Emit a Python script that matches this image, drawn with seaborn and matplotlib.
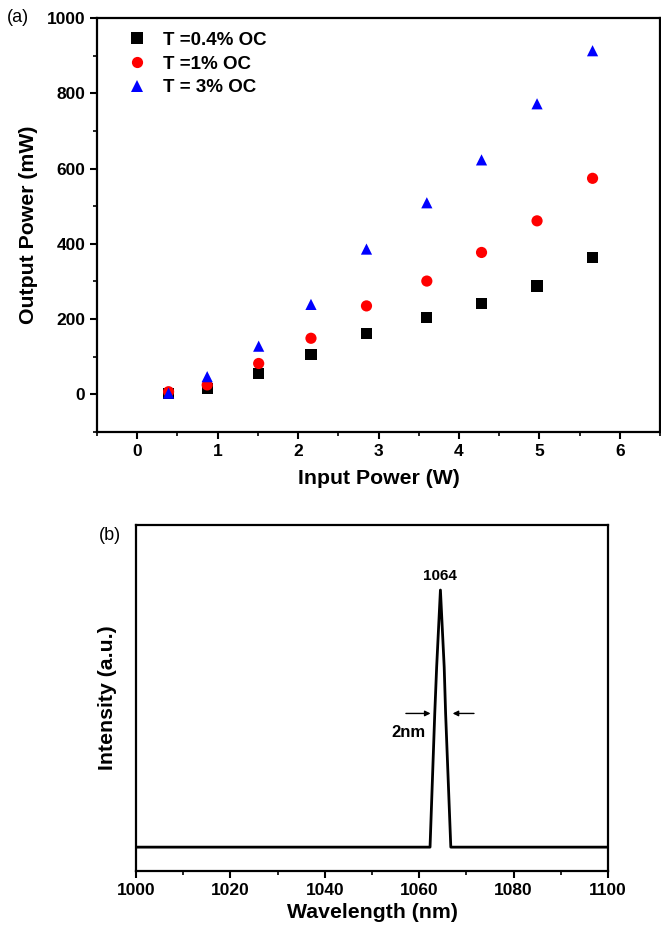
import numpy as np
import pandas as pd
import matplotlib
matplotlib.use("Agg")
import matplotlib.pyplot as plt
import seaborn as sns
from matplotlib.ticker import MultipleLocator

# ---- data: panel (a) ----
input_power = [0.39, 0.87, 1.51, 2.16, 2.85, 3.60, 4.28, 4.97, 5.66]
out_t04 = [3, 16, 56, 106, 162, 204, 242, 288, 364]
out_t1 = [7, 25, 82, 149, 235, 301, 377, 461, 574]
out_t3 = [3, 47, 128, 239, 386, 509, 623, 772, 913]
series_labels = ["T =0.4% OC", "T =1% OC", "T = 3% OC"]
x_ticks_a = [0, 1, 2, 3, 4, 5, 6]
y_ticks_a = [0, 200, 400, 600, 800, 1000]

# ---- data: panel (b) ----
wavelength = [1000, 1062.3, 1063.3, 1063.7, 1064.5, 1065.3, 1065.6, 1066.7, 1100]
intensity = [0, 0, 0.52, 0.70, 1.0, 0.70, 0.52, 0, 0]
x_ticks_b = [1000, 1020, 1040, 1060, 1080, 1100]
peak_label = "1064"
width_label = "2nm"

sns.set_style("ticks")
plt.rcParams["font.family"] = ["Liberation Sans", "DejaVu Sans"]
plt.rcParams["font.weight"] = "bold"
for k in ("text.color", "axes.labelcolor", "xtick.color", "ytick.color", "axes.edgecolor"):
    plt.rcParams[k] = "black"

fig = plt.figure(figsize=(6.61, 9.32), dpi=100)
ax1 = fig.add_axes([0.1467, 0.5365, 0.852, 0.4442])
ax2 = fig.add_axes([0.2057, 0.0654, 0.7141, 0.3713])

df = pd.DataFrame({
    "Input": input_power * 3,
    "Output": out_t04 + out_t1 + out_t3,
    "Series": [series_labels[0]] * len(input_power)
    + [series_labels[1]] * len(input_power)
    + [series_labels[2]] * len(input_power),
})
palette = {series_labels[0]: "black", series_labels[1]: "#ff0000", series_labels[2]: "#0000ff"}
markers = {series_labels[0]: "s", series_labels[1]: "o", series_labels[2]: "^"}
sns.scatterplot(data=df, x="Input", y="Output", hue="Series", style="Series",
                palette=palette, markers=markers, s=65, linewidth=0, ax=ax1)

ax1.set_xlim(-0.5, 6.5)
ax1.set_ylim(-100, 1000)
ax1.set_xticks(x_ticks_a)
ax1.set_yticks(y_ticks_a)
ax1.xaxis.set_minor_locator(MultipleLocator(0.5))
ax1.yaxis.set_minor_locator(MultipleLocator(100))
ax1.set_xlabel("Input Power (W)", fontsize=15.3, fontweight="bold", labelpad=7)
ax1.set_ylabel("Output Power (mW)", fontsize=15.3, fontweight="bold", labelpad=6)
leg = ax1.legend(loc="upper left", bbox_to_anchor=(0.0249, 0.985), frameon=False,
                 fontsize=13.5, handlelength=2.0, handletextpad=0.4, labelspacing=0.35,
                 borderaxespad=0, markerscale=1.0)
for t in leg.get_texts():
    t.set_fontweight("bold")

sns.lineplot(x=wavelength, y=intensity, color="black", linewidth=2, ax=ax2)
ax2.set_xlim(1000, 1100)
ax2.set_ylim(-0.093, 1.253)
ax2.set_xticks(x_ticks_b)
ax2.xaxis.set_minor_locator(MultipleLocator(10))
ax2.set_yticks([])
ax2.set_xlabel("Wavelength (nm)", fontsize=15.3, fontweight="bold", labelpad=4)
ax2.set_ylabel("Intensity (a.u.)", fontsize=15.3, fontweight="bold", labelpad=14)
ax2.annotate("", xy=(1063.0, 0.52), xytext=(1056.6, 0.52),
             arrowprops=dict(arrowstyle="-|>", color="black", lw=1, mutation_scale=8))
ax2.annotate("", xy=(1066.5, 0.52), xytext=(1072.2, 0.52),
             arrowprops=dict(arrowstyle="-|>", color="black", lw=1, mutation_scale=8))
ax2.text(1057.7, 0.445, width_label, ha="center", va="center", fontsize=12, fontweight="bold")
ax2.text(1064.4, 1.055, peak_label, ha="center", va="center", fontsize=11, fontweight="bold")

for ax in (ax1, ax2):
    for sp in ax.spines.values():
        sp.set_linewidth(1.6)
        sp.set_color("black")
        sp.set_visible(True)
    ax.tick_params(which="major", direction="out", length=5, width=1.5, labelsize=12.5)
    ax.tick_params(which="minor", direction="out", length=3, width=1.2)
    ax.tick_params(top=False, right=False, which="both")
    for lab in ax.get_xticklabels() + ax.get_yticklabels():
        lab.set_fontweight("bold")

fig.text(18 / 661, 1 - 18 / 932, "(a)", fontsize=13, fontweight="normal", ha="center", va="center")
fig.text(110 / 661, 1 - 535 / 932, "(b)", fontsize=13, fontweight="normal", ha="center", va="center")

fig.savefig("out.png", dpi=100, facecolor="white")
